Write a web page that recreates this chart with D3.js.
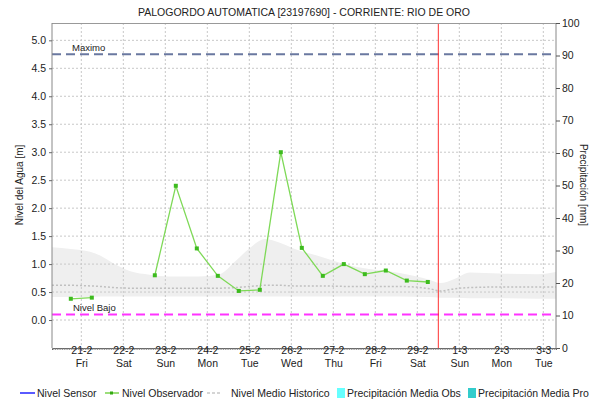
<!DOCTYPE html>
<html><head><meta charset="utf-8">
<script src="https://cdn.jsdelivr.net/npm/d3@7"></script>
<style>
body{margin:0;background:#fff;}
svg{display:block;font-family:"Liberation Sans",Arial,sans-serif;}
</style></head>
<body><svg id="c" width="590" height="404"></svg>
<script>
// ---- data ----
const title = "PALOGORDO AUTOMATICA [23197690] - CORRIENTE: RIO DE ORO";
const xStart = "2020-02-20T07:15:00Z";
const xEnd = "2020-03-03T07:15:00Z";
const nowTime = "2020-02-29T12:00:00Z";
const obsTimes = ["2020-02-20T18:00:00Z","2020-02-21T06:00:00Z","2020-02-21T18:00:00Z","2020-02-22T06:00:00Z",
  "2020-02-22T18:00:00Z","2020-02-23T06:00:00Z","2020-02-23T18:00:00Z","2020-02-24T06:00:00Z",
  "2020-02-24T18:00:00Z","2020-02-25T06:00:00Z","2020-02-25T18:00:00Z","2020-02-26T06:00:00Z",
  "2020-02-26T18:00:00Z","2020-02-27T06:00:00Z","2020-02-27T18:00:00Z","2020-02-28T06:00:00Z",
  "2020-02-28T18:00:00Z","2020-02-29T06:00:00Z"];
const obsValues = [0.38,0.40,null,null,0.80,2.40,1.28,0.79,0.52,0.54,3.00,1.29,0.79,1.00,0.82,0.885,0.705,0.68];
const histTimes = ["2020-02-20T07:15:00Z","2020-02-20T18:00:00Z","2020-02-21T05:00:00Z","2020-02-21T11:00:00Z",
  "2020-02-21T19:00:00Z","2020-02-22T04:00:00Z","2020-02-22T15:00:00Z","2020-02-23T02:00:00Z",
  "2020-02-23T19:00:00Z","2020-02-24T07:00:00Z","2020-02-24T16:00:00Z","2020-02-25T00:00:00Z",
  "2020-02-25T09:00:00Z","2020-02-25T17:30:00Z","2020-02-26T02:00:00Z","2020-02-26T16:00:00Z",
  "2020-02-27T10:00:00Z","2020-02-28T14:00:00Z","2020-02-29T07:00:00Z","2020-02-29T13:00:00Z",
  "2020-02-29T21:30:00Z","2020-03-01T06:00:00Z","2020-03-01T23:00:00Z","2020-03-02T21:00:00Z",
  "2020-03-03T07:15:00Z"];
const histUpper = [1.30,1.27,1.22,1.15,1.00,0.87,0.81,0.78,0.78,0.82,1.05,1.28,1.45,1.38,1.27,1.14,0.97,0.84,0.72,0.66,0.74,0.85,0.83,0.82,0.86];
const histLower = [0.41,0.41,0.41,0.42,0.42,0.42,0.42,0.42,0.42,0.42,0.42,0.42,0.42,0.42,0.42,0.42,0.42,0.42,0.41,0.40,0.40,0.39,0.39,0.38,0.38];
const histMean  = [0.62,0.62,0.61,0.60,0.58,0.57,0.57,0.57,0.57,0.57,0.58,0.60,0.62,0.62,0.61,0.61,0.60,0.60,0.56,0.52,0.56,0.58,0.59,0.59,0.59];
const leftTicks = [0,0.5,1,1.5,2,2.5,3,3.5,4,4.5,5];
const rightTicks = [0,10,20,30,40,50,60,70,80,90,100];
const maximo = 4.75, nivelBajo = 0.1;
const legendItems = ["Nivel Sensor","Nivel Observador","Nivel Medio Historico","Precipitación Media Obs","Precipitación Media Pro"];

// ---- layout ----
const L = 52, R = 556, T = 23, B = 348;
const svg = d3.select("#c");
const x = d3.scaleUtc().domain([new Date(xStart), new Date(xEnd)]).range([L, R]);
const y = d3.scaleLinear().domain([-0.5, 5.31]).range([B, T]);
const yR = d3.scaleLinear().domain([0, 100]).range([B, T]);
const fs = "10.5px";

// title
svg.append("text").attr("x", 304).attr("y", 16).attr("text-anchor","middle")
  .attr("font-size","10.5px").attr("fill","#222").text(title);

// historic band
const hist = histTimes.map((t,i)=>({t:new Date(t),u:histUpper[i],l:histLower[i],m:histMean[i]}));
svg.append("path").datum(hist).attr("fill","#efefef")
  .attr("d", d3.area().x(d=>x(d.t)).y0(d=>y(d.l)).y1(d=>y(d.u)).curve(d3.curveMonotoneX));

// grid
const days = d3.utcDay.range(new Date(xStart), new Date(xEnd));
svg.append("g").selectAll("line").data(leftTicks).join("line")
  .attr("x1",L).attr("x2",R).attr("y1",d=>y(d)).attr("y2",d=>y(d))
  .attr("stroke","#c8c8c8").attr("stroke-dasharray","2,2");
svg.append("g").selectAll("line").data(days).join("line")
  .attr("x1",d=>x(d)).attr("x2",d=>x(d)).attr("y1",T).attr("y2",B)
  .attr("stroke","#c8c8c8").attr("stroke-dasharray","2,2");

// historic mean
svg.append("path").datum(hist).attr("fill","none").attr("stroke","#c0c0c0").attr("stroke-width",1.5)
  .attr("stroke-dasharray","2,2")
  .attr("d", d3.line().x(d=>x(d.t)).y(d=>y(d.m)).curve(d3.curveMonotoneX));

// threshold lines
svg.append("line").attr("x1",L).attr("x2",R).attr("y1",y(maximo)).attr("y2",y(maximo))
  .attr("stroke","#6a78a0").attr("stroke-width",2).attr("stroke-dasharray","9,5");
svg.append("text").attr("x",72).attr("y",y(maximo)-3).attr("font-size","9.5px").attr("fill","#222").text("Maximo");
svg.append("line").attr("x1",L).attr("x2",R).attr("y1",y(nivelBajo)).attr("y2",y(nivelBajo))
  .attr("stroke","#ff33ff").attr("stroke-width",2).attr("stroke-dasharray","9,5");
svg.append("text").attr("x",73).attr("y",y(nivelBajo)-3).attr("font-size","9.5px").attr("fill","#222").text("Nivel Bajo");

// observer series
const obs = obsTimes.map((t,i)=>({t:new Date(t),v:obsValues[i]}));
svg.append("path").datum(obs).attr("fill","none").attr("stroke","#7ed957").attr("stroke-width",1.3)
  .attr("d", d3.line().defined(d=>d.v!==null).x(d=>x(d.t)).y(d=>y(d.v)));
svg.append("g").selectAll("rect").data(obs.filter(d=>d.v!==null)).join("rect")
  .attr("x",d=>x(d.t)-2).attr("y",d=>y(d.v)-2).attr("width",4).attr("height",4).attr("fill","#3dbb1e");

// now line
svg.append("line").attr("x1",x(new Date(nowTime))).attr("x2",x(new Date(nowTime))).attr("y1",T).attr("y2",B)
  .attr("stroke","#ff3030").attr("stroke-width",1);

// frame
svg.append("line").attr("x1",L).attr("x2",R).attr("y1",T+0.5).attr("y2",T+0.5).attr("stroke","#999");

// axes
const gL = svg.append("g").attr("transform",`translate(${L},0)`)
  .call(d3.axisLeft(y).tickValues(leftTicks).tickFormat(d3.format(".1f")).tickSize(3).tickPadding(3));
gL.select(".domain").attr("stroke","#888").attr("d",`M0,${T}V${B}`);
gL.selectAll("text").attr("font-size",fs).attr("fill","#222").attr("font-family","Liberation Sans, Arial");
gL.selectAll(".tick line").attr("stroke","#666");

const gR = svg.append("g").attr("transform",`translate(${R},0)`)
  .call(d3.axisRight(yR).tickValues(rightTicks).tickSize(4).tickPadding(2));
gR.select(".domain").attr("stroke","#888").attr("d",`M0,${T}V${B}`);
gR.selectAll("text").attr("font-size",fs).attr("fill","#222").attr("font-family","Liberation Sans, Arial");
gR.selectAll(".tick line").attr("stroke","#555");

const gM = svg.append("g").attr("transform",`translate(0,${B})`)
  .call(d3.axisBottom(x).ticks(d3.utcHour.every(1)).tickSize(2).tickFormat(""));
gM.select(".domain").attr("stroke","#666");
gM.selectAll(".tick line").attr("stroke","#777").attr("stroke-width",0.8);

const gX = svg.append("g").attr("transform",`translate(0,${B})`)
  .call(d3.axisBottom(x).ticks(d3.utcDay.every(1)).tickSize(3).tickFormat(d3.utcFormat("%-d-%-m")).tickPadding(3));
gX.select(".domain").remove();
gX.selectAll(".tick line").attr("stroke","#555");
gX.selectAll(".tick text").attr("font-size",fs).attr("fill","#222").attr("font-family","Liberation Sans, Arial")
  .each(function(d){
    const t = d3.select(this);
    const lbl = t.text();
    t.text(null);
    t.append("tspan").attr("x",0).attr("dy","0em").text(lbl);
    t.append("tspan").attr("x",0).attr("dy","1.25em").text(d3.utcFormat("%a")(d));
  });

// axis titles
svg.append("text").attr("transform","translate(23,185) rotate(-90)").attr("text-anchor","middle")
  .attr("font-size","10px").attr("fill","#222").text("Nivel del Agua [m]");
svg.append("text").attr("transform","translate(580,185) rotate(90)").attr("text-anchor","middle")
  .attr("font-size","10px").attr("fill","#222").text("Precipitación [mm]");

// legend
const lg = svg.append("g").attr("font-size","10.5px").attr("fill","#222");
const ly = 393;
lg.append("line").attr("x1",20).attr("x2",35).attr("y1",ly).attr("y2",ly).attr("stroke","#0000ff").attr("stroke-width",1.3);
lg.append("text").attr("x",37).attr("y",ly+4).text(legendItems[0]);
lg.append("line").attr("x1",105).attr("x2",119).attr("y1",ly).attr("y2",ly).attr("stroke","#66cc33").attr("stroke-width",1.3);
lg.append("rect").attr("x",110).attr("y",ly-1.5).attr("width",3).attr("height",3).attr("fill","#33aa11");
lg.append("text").attr("x",122).attr("y",ly+4).text(legendItems[1]);
lg.append("line").attr("x1",207).attr("x2",222).attr("y1",ly).attr("y2",ly).attr("stroke","#c8c8c8").attr("stroke-width",1.3).attr("stroke-dasharray","3,2");
lg.append("text").attr("x",231).attr("y",ly+4).text(legendItems[2]);
lg.append("rect").attr("x",337).attr("y",ly-5).attr("width",8).attr("height",10).attr("fill","#66ffff");
lg.append("text").attr("x",347).attr("y",ly+4).text(legendItems[3]);
lg.append("rect").attr("x",468).attr("y",ly-5).attr("width",8).attr("height",10).attr("fill","#33cccc");
lg.append("text").attr("x",478).attr("y",ly+4).text(legendItems[4]);
</script></body></html>
